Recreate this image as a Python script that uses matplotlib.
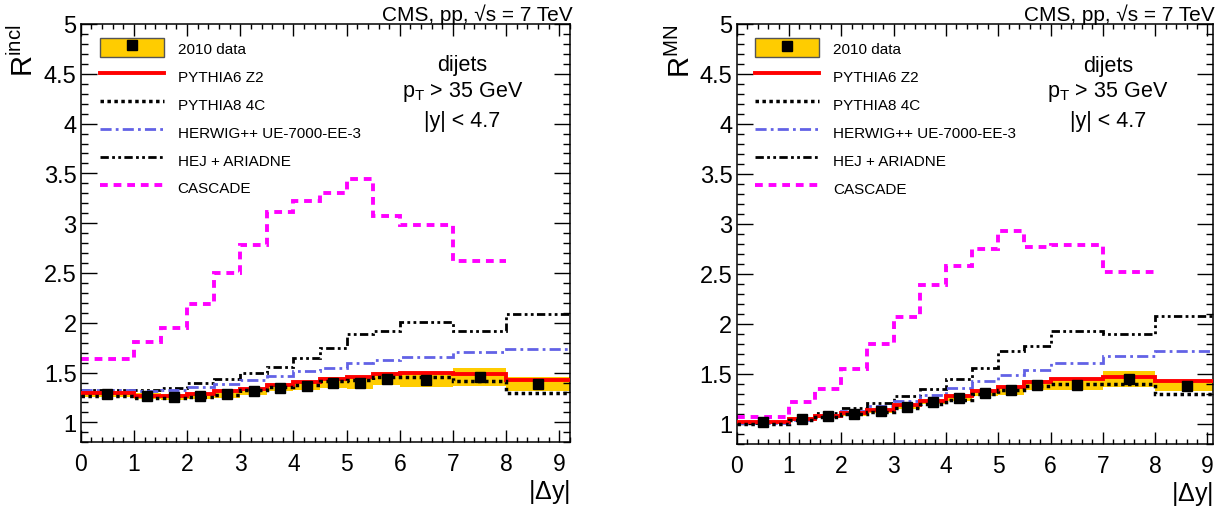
import numpy as np
import matplotlib
matplotlib.use("Agg")
import matplotlib.pyplot as plt
from matplotlib.patches import Patch
from matplotlib.lines import Line2D
from matplotlib.ticker import MultipleLocator, FormatStrFormatter

plt.rcParams['font.family'] = ['Liberation Sans', 'DejaVu Sans']
plt.rcParams['mathtext.default'] = 'regular'

# bin edges in |dy|
edges = [0, 1, 1.5, 2, 2.5, 3, 3.5, 4, 4.5, 5, 5.5, 6, 7, 8, 9.2]

# R^incl (left)
incl_data = [1.285, 1.26, 1.255, 1.265, 1.28, 1.31, 1.35, 1.37, 1.40, 1.40, 1.44, 1.43, 1.46, 1.39]
incl_err = [0.03, 0.03, 0.03, 0.03, 0.035, 0.04, 0.04, 0.045, 0.055, 0.06, 0.065, 0.07, 0.09, 0.07]
incl_py6 = [1.29, 1.26, 1.26, 1.285, 1.31, 1.34, 1.38, 1.41, 1.44, 1.46, 1.49, 1.50, 1.49, 1.43]
incl_py8 = [1.265, 1.245, 1.24, 1.255, 1.275, 1.325, 1.36, 1.38, 1.42, 1.43, 1.455, 1.455, 1.42, 1.29]
incl_herwig = [1.33, 1.31, 1.33, 1.36, 1.39, 1.43, 1.47, 1.52, 1.55, 1.60, 1.63, 1.66, 1.71, 1.74]
incl_hej = [1.325, 1.325, 1.35, 1.40, 1.44, 1.50, 1.56, 1.65, 1.75, 1.89, 1.92, 2.01, 1.92, 2.09]
incl_cascade = [1.634, 1.805, 1.95, 2.19, 2.50, 2.78, 3.11, 3.22, 3.305, 3.446, 3.07, 2.98, 2.62]

# R^MN (right)
mn_data = [1.02, 1.05, 1.075, 1.10, 1.125, 1.17, 1.22, 1.26, 1.31, 1.335, 1.385, 1.39, 1.45, 1.38]
mn_err = [0.01, 0.015, 0.015, 0.02, 0.02, 0.025, 0.025, 0.03, 0.033, 0.045, 0.05, 0.053, 0.08, 0.05]
mn_py6 = [1.017, 1.046, 1.08, 1.11, 1.14, 1.185, 1.23, 1.275, 1.325, 1.365, 1.42, 1.445, 1.47, 1.43]
mn_py8 = [1.00, 1.035, 1.07, 1.095, 1.12, 1.16, 1.20, 1.235, 1.30, 1.34, 1.375, 1.40, 1.40, 1.295]
mn_herwig = [1.007, 1.04, 1.09, 1.13, 1.175, 1.23, 1.29, 1.36, 1.43, 1.49, 1.54, 1.61, 1.68, 1.73]
mn_hej = [1.01, 1.05, 1.11, 1.16, 1.21, 1.28, 1.35, 1.45, 1.56, 1.73, 1.78, 1.93, 1.90, 2.08]
mn_cascade = [1.066, 1.215, 1.35, 1.55, 1.80, 2.07, 2.39, 2.58, 2.75, 2.93, 2.77, 2.79, 2.52]

labels = ["2010 data", "PYTHIA6 Z2", "PYTHIA8 4C", "HERWIG++ UE-7000-EE-3",
          "HEJ + ARIADNE", "CASCADE"]

YELLOW = '#ffcc00'
BLUE = '#6262e6'
MAGENTA = '#ff00ff'
ls_py8 = (0, (1.0, 1.0))
ls_herwig = (0, (4, 1.5, 1, 1.5))
ls_hej = (0, (3, 1.2, 1, 1.2, 1, 1.2))
ls_casc = (0, (2.0, 1.5))

fig = plt.figure(figsize=(12.29, 5.10), dpi=100)
ax1 = fig.add_axes([0.0657, 0.1308, 0.3981, 0.8202])
ax2 = fig.add_axes([0.5994, 0.1275, 0.3873, 0.8235])


def draw_panel(ax, data, err, py6, py8, herwig, hej, cascade, ylab, xmax):
    e = np.array(edges)
    d = np.array(data)
    er = np.array(err)
    centers = (e[:-1] + e[1:]) / 2

    ax.stairs(d + er, e, baseline=d - er, fill=True, color=YELLOW, lw=0, zorder=1)
    ax.stairs(hej, e, baseline=None, color='black', lw=2.0, ls=ls_hej, zorder=2)
    ax.stairs(herwig, e, baseline=None, color=BLUE, lw=2.0, ls=ls_herwig, zorder=2)
    ax.stairs(cascade, e[:len(cascade) + 1], baseline=None, color=MAGENTA, lw=2.8,
              ls=ls_casc, zorder=2)
    ax.stairs(py6, e, baseline=None, color='red', lw=2.8, zorder=3)
    ax.stairs(py8, e, baseline=None, color='black', lw=2.5, ls=ls_py8, zorder=4)
    ax.plot(centers, d, 's', color='black', ms=7.5, zorder=5)

    ax.set_xlim(0, xmax)
    ax.set_ylim(0.8, 5)
    ax.xaxis.set_major_locator(MultipleLocator(1))
    ax.xaxis.set_minor_locator(MultipleLocator(0.2))
    ax.yaxis.set_major_locator(MultipleLocator(0.5))
    ax.yaxis.set_minor_locator(MultipleLocator(0.1))
    ax.yaxis.set_major_formatter(FormatStrFormatter('%g'))
    ax.tick_params(which='both', direction='in', top=True, right=True, width=1.0)
    ax.tick_params(axis='x', which='major', length=8.6, labelsize=16.5, pad=7)
    ax.tick_params(axis='x', which='minor', length=3.6)
    ax.tick_params(axis='y', which='major', length=11.5, labelsize=17, pad=3)
    ax.tick_params(axis='y', which='minor', length=5)
    for s in ax.spines.values():
        s.set_linewidth(1.1)

    ax.text(-0.117, 1.0, ylab, transform=ax.transAxes, rotation=90,
            ha='center', va='top', fontsize=21)
    ax.text(1.0, -0.083, r'|$\Delta$y|', transform=ax.transAxes,
            ha='right', va='top', fontsize=18)
    ax.text(1.005, 1.0, 'CMS, pp, \u221as = 7 TeV', transform=ax.transAxes,
            ha='right', va='bottom', fontsize=15)
    ax.text(0.78, 0.902, 'dijets', transform=ax.transAxes, ha='center',
            va='center', fontsize=15.5)
    ax.text(0.78, 0.840, r'p$_T$ > 35 GeV', transform=ax.transAxes, ha='center',
            va='center', fontsize=15.5)
    ax.text(0.78, 0.770, '|y| < 4.7', transform=ax.transAxes, ha='center',
            va='center', fontsize=15.5)

    handles = [
        (Patch(facecolor=YELLOW, edgecolor='#555555', lw=1.0),
         Line2D([], [], marker='s', color='black', ls='none', ms=7)),
        Line2D([], [], color='red', lw=2.8),
        Line2D([], [], color='black', lw=2.5, ls=ls_py8),
        Line2D([], [], color=BLUE, lw=2.0, ls=ls_herwig),
        Line2D([], [], color='black', lw=2.0, ls=ls_hej),
        Line2D([], [], color=MAGENTA, lw=2.8, ls=ls_casc),
    ]
    ax.legend(handles, labels, loc='upper left', bbox_to_anchor=(0.039, 0.966),
              frameon=False, fontsize=11, handlelength=4.2, handleheight=1.53,
              handletextpad=0.9, labelspacing=0.59, borderpad=0, borderaxespad=0)


draw_panel(ax1, incl_data, incl_err, incl_py6, incl_py8, incl_herwig, incl_hej,
           incl_cascade, r'R$^{incl}$', 9.2)
draw_panel(ax2, mn_data, mn_err, mn_py6, mn_py8, mn_herwig, mn_hej,
           mn_cascade, r'R$^{MN}$', 9.1)

plt.savefig('out.png', dpi=100)
